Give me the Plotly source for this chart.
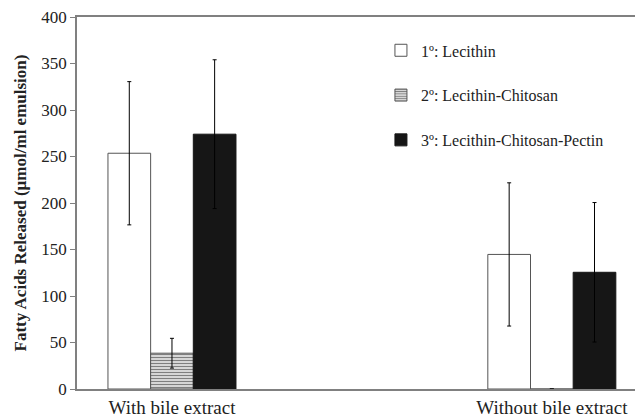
import plotly.graph_objects as go

categories = ["With bile extract", "Without bile extract"]
series_names = ["1º: Lecithin", "2º: Lecithin-Chitosan", "3º: Lecithin-Chitosan-Pectin"]
lecithin = [253.5, 144.7]
lecithin_err = [77, 77]
chitosan = [38.5, 0]
chitosan_err = [16, 0]
pectin = [274, 125.5]
pectin_err = [80, 75]
y_ticks = [0, 50, 100, 150, 200, 250, 300, 350, 400]

FONT = "Liberation Serif, Times New Roman, serif"
fig = go.Figure()
specs = [
    (series_names[0], lecithin, lecithin_err, dict(color="white", line=dict(color="#555555", width=1))),
    (series_names[1], chitosan, chitosan_err, dict(color="white", line=dict(color="#555555", width=1),
                                                     pattern=dict(shape="-", size=3, solidity=0.55, fgcolor="black", bgcolor="white"))),
    (series_names[2], pectin, pectin_err, dict(color="#161616", line=dict(color="#161616", width=1))),
]
for i, (name, vals, errs, marker) in enumerate(specs):
    fig.add_trace(go.Bar(
        x=categories, y=vals, name=name, marker=marker,
        legendgroup=f"g{i}",
        error_y=dict(type="data", array=errs, visible=True, color="black", thickness=1, width=2),
    ))

# page body has an 8px default margin; figure sized to fill the 643x418 window
fig.update_layout(
    width=635, height=410,
    margin=dict(l=69, r=0, t=6, b=29),
    paper_bgcolor="white", plot_bgcolor="white",
    barmode="group", bargap=0.663, bargroupgap=0,
    font=dict(family=FONT, size=17, color="#222222"),
    showlegend=True,
    legend=dict(x=0.537, y=0.956, xanchor="left", yanchor="top", traceorder="grouped",
                tracegroupgap=21, font=dict(family=FONT, size=16, color="#222222"),
                bgcolor="rgba(0,0,0,0)", itemwidth=30),
    xaxis=dict(range=[-0.25, 1.24], showline=True, linecolor="#808080", linewidth=2, mirror=True,
               ticks="", showgrid=False, tickfont=dict(family=FONT, size=19, color="#222222")),
    yaxis=dict(range=[0, 400], tickvals=y_ticks, showline=True, linecolor="#808080", linewidth=1.5,
               ticks="outside", ticklen=5, tickcolor="#808080", showgrid=False, zeroline=False,
               ticklabeloverflow="allow",
               tickfont=dict(family=FONT, size=17, color="#222222"),
               title=dict(text="<b>Fatty Acids Released (µmol/ml emulsion)</b>", standoff=10,
                          font=dict(family=FONT, size=17, color="#222222"))),
)
fig.write_html("out.html")
